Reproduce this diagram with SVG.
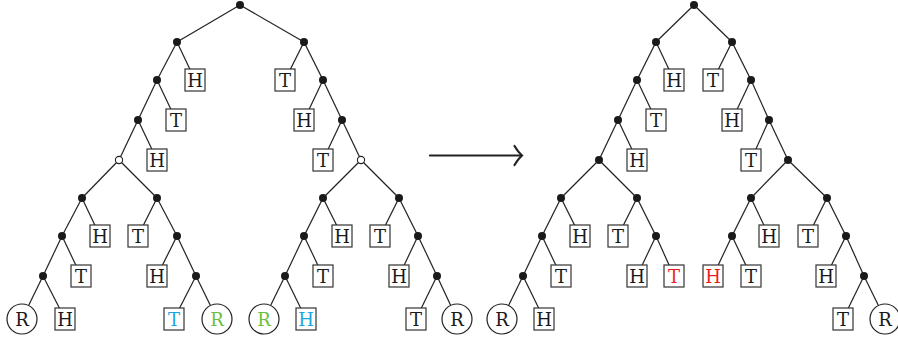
<svg xmlns="http://www.w3.org/2000/svg" width="898" height="339" viewBox="0 0 898 339">
<style>
.e line{stroke:#222;stroke-width:1.2}
.d{fill:#1a1a1a}
.o{fill:#fff;stroke:#222;stroke-width:1.1}
.bxr{fill:#fff;stroke:#333;stroke-width:1.2}
.cir{fill:#fff;stroke:#222;stroke-width:1.2}
text{font-family:"DejaVu Serif","Liberation Serif",serif;font-size:18px;text-anchor:middle;fill:#1a1a1a}
.bl{fill:#1aa6e0}.gr{fill:#6cc040}.rd{fill:#ec1c24}
</style>
<defs>
<rect id="bx" class="bxr" x="-10" y="-11" width="20" height="22"/>
<circle id="ci" class="cir" r="15"/>
</defs>
<g id="connectors" class="e">
<line x1="240" y1="5" x2="177" y2="42"/><line x1="240" y1="5" x2="304" y2="42"/>
<line x1="177" y1="42" x2="157" y2="80"/><line x1="177" y1="42" x2="195" y2="80"/>
<line x1="157" y1="80" x2="138" y2="120"/><line x1="157" y1="80" x2="176" y2="120"/>
<line x1="138" y1="120" x2="119" y2="160"/><line x1="138" y1="120" x2="157" y2="160"/>
<line x1="119" y1="160" x2="82" y2="198"/><line x1="119" y1="160" x2="157" y2="198"/>
<line x1="82" y1="198" x2="62" y2="236"/><line x1="82" y1="198" x2="100" y2="236"/>
<line x1="62" y1="236" x2="43" y2="276"/><line x1="62" y1="236" x2="81" y2="276"/>
<line x1="43" y1="276" x2="22" y2="319"/><line x1="43" y1="276" x2="65" y2="319"/>
<line x1="157" y1="198" x2="138" y2="236"/><line x1="157" y1="198" x2="177" y2="236"/>
<line x1="177" y1="236" x2="157" y2="276"/><line x1="177" y1="236" x2="196" y2="276"/>
<line x1="196" y1="276" x2="174" y2="319"/><line x1="196" y1="276" x2="217" y2="319"/>
<line x1="304" y1="42" x2="285" y2="80"/><line x1="304" y1="42" x2="323" y2="80"/>
<line x1="323" y1="80" x2="304" y2="120"/><line x1="323" y1="80" x2="342" y2="120"/>
<line x1="342" y1="120" x2="323" y2="160"/><line x1="342" y1="120" x2="361" y2="160"/>
<line x1="361" y1="160" x2="323" y2="198"/><line x1="361" y1="160" x2="399" y2="198"/>
<line x1="323" y1="198" x2="304" y2="236"/><line x1="323" y1="198" x2="342" y2="236"/>
<line x1="304" y1="236" x2="285" y2="276"/><line x1="304" y1="236" x2="323" y2="276"/>
<line x1="285" y1="276" x2="264" y2="319"/><line x1="285" y1="276" x2="306" y2="319"/>
<line x1="399" y1="198" x2="380" y2="236"/><line x1="399" y1="198" x2="418" y2="236"/>
<line x1="418" y1="236" x2="399" y2="276"/><line x1="418" y1="236" x2="437" y2="276"/>
<line x1="437" y1="276" x2="416" y2="319"/><line x1="437" y1="276" x2="457" y2="319"/>

<line x1="694" y1="5" x2="656" y2="42"/><line x1="694" y1="5" x2="732" y2="42"/>
<line x1="656" y1="42" x2="637" y2="80"/><line x1="656" y1="42" x2="674" y2="80"/>
<line x1="637" y1="80" x2="618" y2="120"/><line x1="637" y1="80" x2="656" y2="120"/>
<line x1="618" y1="120" x2="599" y2="160"/><line x1="618" y1="120" x2="637" y2="160"/>
<line x1="599" y1="160" x2="561" y2="198"/><line x1="599" y1="160" x2="637" y2="198"/>
<line x1="561" y1="198" x2="542" y2="236"/><line x1="561" y1="198" x2="580" y2="236"/>
<line x1="542" y1="236" x2="523" y2="276"/><line x1="542" y1="236" x2="561" y2="276"/>
<line x1="523" y1="276" x2="502" y2="319"/><line x1="523" y1="276" x2="544" y2="319"/>
<line x1="637" y1="198" x2="618" y2="236"/><line x1="637" y1="198" x2="656" y2="236"/>
<line x1="656" y1="236" x2="637" y2="276"/><line x1="656" y1="236" x2="674" y2="276"/>
<line x1="732" y1="42" x2="713" y2="80"/><line x1="732" y1="42" x2="751" y2="80"/>
<line x1="751" y1="80" x2="732" y2="120"/><line x1="751" y1="80" x2="769" y2="120"/>
<line x1="769" y1="120" x2="751" y2="160"/><line x1="769" y1="120" x2="788" y2="160"/>
<line x1="788" y1="160" x2="751" y2="198"/><line x1="788" y1="160" x2="827" y2="198"/>
<line x1="751" y1="198" x2="732" y2="236"/><line x1="751" y1="198" x2="769" y2="236"/>
<line x1="732" y1="236" x2="713" y2="276"/><line x1="732" y1="236" x2="751" y2="276"/>
<line x1="827" y1="198" x2="808" y2="236"/><line x1="827" y1="198" x2="846" y2="236"/>
<line x1="846" y1="236" x2="826" y2="276"/><line x1="846" y1="236" x2="864" y2="276"/>
<line x1="864" y1="276" x2="843" y2="319"/><line x1="864" y1="276" x2="885" y2="319"/>
</g>
<g id="arrow" fill="none" stroke="#222" stroke-width="2.2" stroke-linecap="round">
<path d="M430,155.5 H521"/>
<path d="M514.5,146 Q518.5,152.5 522,155.5 Q518.5,158.5 514.5,165"/>
</g>
<!-- left tree internal nodes -->
<g id="L0"><circle class="d" cx="240" cy="5" r="4"/></g>
<g id="L1"><circle class="d" cx="177" cy="42" r="4"/></g>
<g id="L2"><circle class="d" cx="304" cy="42" r="4"/></g>
<g id="L3"><circle class="d" cx="157" cy="80" r="4"/></g>
<g id="L4"><circle class="d" cx="138" cy="120" r="4"/></g>
<g id="L5"><circle class="o" cx="119" cy="160" r="3.6"/></g>
<g id="L6"><circle class="d" cx="82" cy="198" r="4"/></g>
<g id="L7"><circle class="d" cx="157" cy="198" r="4"/></g>
<g id="L8"><circle class="d" cx="62" cy="236" r="4"/></g>
<g id="L9"><circle class="d" cx="43" cy="276" r="4"/></g>
<g id="L10"><circle class="d" cx="177" cy="236" r="4"/></g>
<g id="L11"><circle class="d" cx="196" cy="276" r="4"/></g>
<g id="L12"><circle class="d" cx="323" cy="80" r="4"/></g>
<g id="L13"><circle class="d" cx="342" cy="120" r="4"/></g>
<g id="L14"><circle class="o" cx="361" cy="160" r="3.6"/></g>
<g id="L15"><circle class="d" cx="323" cy="198" r="4"/></g>
<g id="L16"><circle class="d" cx="399" cy="198" r="4"/></g>
<g id="L17"><circle class="d" cx="304" cy="236" r="4"/></g>
<g id="L18"><circle class="d" cx="285" cy="276" r="4"/></g>
<g id="L19"><circle class="d" cx="418" cy="236" r="4"/></g>
<g id="L20"><circle class="d" cx="437" cy="276" r="4"/></g>
<!-- left tree leaves -->
<g id="LH1" transform="translate(195,80)"><use href="#bx"/><text y="6.5">H</text></g>
<g id="LT1" transform="translate(176,120)"><use href="#bx"/><text y="6.5">T</text></g>
<g id="LH2" transform="translate(157,160)"><use href="#bx"/><text y="6.5">H</text></g>
<g id="LH3" transform="translate(100,236)"><use href="#bx"/><text y="6.5">H</text></g>
<g id="LT2" transform="translate(81,276)"><use href="#bx"/><text y="6.5">T</text></g>
<g id="LR1" transform="translate(22,319)"><use href="#ci"/><text y="6.5">R</text></g>
<g id="LH4" transform="translate(65,319)"><use href="#bx"/><text y="6.5">H</text></g>
<g id="LT3" transform="translate(138,236)"><use href="#bx"/><text y="6.5">T</text></g>
<g id="LH5" transform="translate(157,276)"><use href="#bx"/><text y="6.5">H</text></g>
<g id="LT4" transform="translate(174,319)"><use href="#bx"/><text class="bl" y="6.5">T</text></g>
<g id="LR2" transform="translate(217,319)"><use href="#ci"/><text class="gr" y="6.5">R</text></g>
<g id="LT5" transform="translate(285,80)"><use href="#bx"/><text y="6.5">T</text></g>
<g id="LH6" transform="translate(304,120)"><use href="#bx"/><text y="6.5">H</text></g>
<g id="LT6" transform="translate(323,160)"><use href="#bx"/><text y="6.5">T</text></g>
<g id="LH7" transform="translate(342,236)"><use href="#bx"/><text y="6.5">H</text></g>
<g id="LT7" transform="translate(323,276)"><use href="#bx"/><text y="6.5">T</text></g>
<g id="LR3" transform="translate(264,319)"><use href="#ci"/><text class="gr" y="6.5">R</text></g>
<g id="LH8" transform="translate(306,319)"><use href="#bx"/><text class="bl" y="6.5">H</text></g>
<g id="LT8" transform="translate(380,236)"><use href="#bx"/><text y="6.5">T</text></g>
<g id="LH9" transform="translate(399,276)"><use href="#bx"/><text y="6.5">H</text></g>
<g id="LT9" transform="translate(416,319)"><use href="#bx"/><text y="6.5">T</text></g>
<g id="LR4" transform="translate(457,319)"><use href="#ci"/><text y="6.5">R</text></g>
<!-- right tree internal nodes -->
<g id="R0"><circle class="d" cx="694" cy="5" r="4"/></g>
<g id="R1"><circle class="d" cx="656" cy="42" r="4"/></g>
<g id="R2"><circle class="d" cx="732" cy="42" r="4"/></g>
<g id="R3"><circle class="d" cx="637" cy="80" r="4"/></g>
<g id="R4"><circle class="d" cx="618" cy="120" r="4"/></g>
<g id="R5"><circle class="d" cx="599" cy="160" r="4"/></g>
<g id="R6"><circle class="d" cx="561" cy="198" r="4"/></g>
<g id="R7"><circle class="d" cx="637" cy="198" r="4"/></g>
<g id="R8"><circle class="d" cx="542" cy="236" r="4"/></g>
<g id="R9"><circle class="d" cx="523" cy="276" r="4"/></g>
<g id="R10"><circle class="d" cx="656" cy="236" r="4"/></g>
<g id="R11"><circle class="d" cx="751" cy="80" r="4"/></g>
<g id="R12"><circle class="d" cx="769" cy="120" r="4"/></g>
<g id="R13"><circle class="d" cx="788" cy="160" r="4"/></g>
<g id="R14"><circle class="d" cx="751" cy="198" r="4"/></g>
<g id="R15"><circle class="d" cx="827" cy="198" r="4"/></g>
<g id="R16"><circle class="d" cx="732" cy="236" r="4"/></g>
<g id="R17"><circle class="d" cx="846" cy="236" r="4"/></g>
<g id="R18"><circle class="d" cx="864" cy="276" r="4"/></g>
<!-- right tree leaves -->
<g id="RH1" transform="translate(674,80)"><use href="#bx"/><text y="6.5">H</text></g>
<g id="RT1" transform="translate(656,120)"><use href="#bx"/><text y="6.5">T</text></g>
<g id="RH2" transform="translate(637,160)"><use href="#bx"/><text y="6.5">H</text></g>
<g id="RH3" transform="translate(580,236)"><use href="#bx"/><text y="6.5">H</text></g>
<g id="RT2" transform="translate(561,276)"><use href="#bx"/><text y="6.5">T</text></g>
<g id="RR1" transform="translate(502,319)"><use href="#ci"/><text y="6.5">R</text></g>
<g id="RH4" transform="translate(544,319)"><use href="#bx"/><text y="6.5">H</text></g>
<g id="RT3" transform="translate(618,236)"><use href="#bx"/><text y="6.5">T</text></g>
<g id="RH5" transform="translate(637,276)"><use href="#bx"/><text y="6.5">H</text></g>
<g id="RT4" transform="translate(674,276)"><use href="#bx"/><text class="rd" y="6.5">T</text></g>
<g id="RT5" transform="translate(713,80)"><use href="#bx"/><text y="6.5">T</text></g>
<g id="RH6" transform="translate(732,120)"><use href="#bx"/><text y="6.5">H</text></g>
<g id="RT6" transform="translate(751,160)"><use href="#bx"/><text y="6.5">T</text></g>
<g id="RH7" transform="translate(769,236)"><use href="#bx"/><text y="6.5">H</text></g>
<g id="RH8" transform="translate(713,276)"><use href="#bx"/><text class="rd" y="6.5">H</text></g>
<g id="RT7" transform="translate(751,276)"><use href="#bx"/><text y="6.5">T</text></g>
<g id="RT8" transform="translate(808,236)"><use href="#bx"/><text y="6.5">T</text></g>
<g id="RH9" transform="translate(826,276)"><use href="#bx"/><text y="6.5">H</text></g>
<g id="RT9" transform="translate(843,319)"><use href="#bx"/><text y="6.5">T</text></g>
<g id="RR2" transform="translate(885,319)"><use href="#ci"/><text y="6.5">R</text></g>
</svg>
